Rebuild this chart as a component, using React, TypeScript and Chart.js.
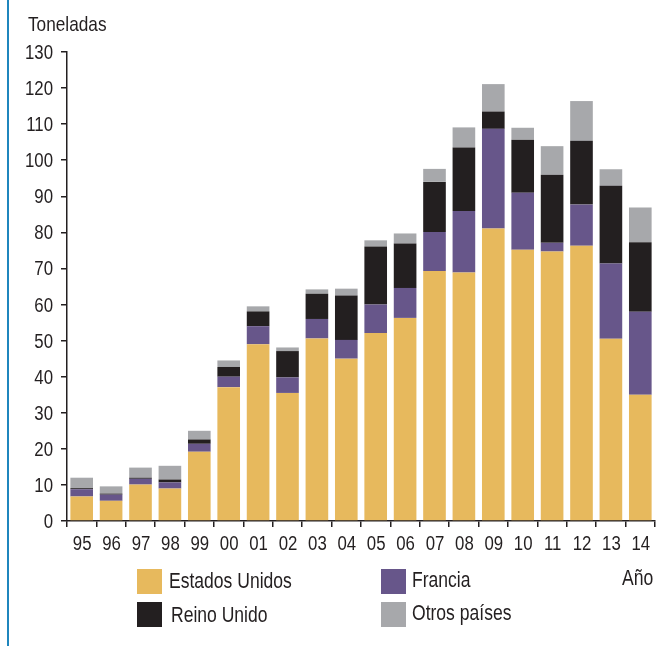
import React, { useEffect, useRef } from 'react';
import { Chart, registerables } from 'chart.js';
Chart.register(...registerables);

const years = ['95', '96', '97', '98', '99', '00', '01', '02', '03', '04', '05', '06', '07', '08', '09', '10', '11', '12', '13', '14'];
const estadosUnidos = [6.8, 5.6, 10.1, 9.0, 19.2, 37.1, 49.0, 35.5, 50.6, 45.0, 52.1, 56.3, 69.3, 68.9, 81.1, 75.2, 74.7, 76.3, 50.5, 35.0];
const francia = [2.0, 1.7, 1.6, 1.7, 2.2, 2.9, 5.0, 4.3, 5.4, 5.2, 7.9, 8.3, 10.8, 17.0, 27.6, 15.8, 2.4, 11.4, 20.9, 23.0];
const reinoUnido = [0.3, 0.3, 0.3, 0.8, 1.2, 2.7, 4.1, 7.3, 7.0, 12.3, 16.1, 12.3, 13.9, 17.6, 4.8, 14.7, 18.9, 17.7, 21.5, 19.3];
const otrosPaises = [2.9, 2.0, 2.8, 3.8, 2.4, 1.8, 1.4, 1.0, 1.2, 1.9, 1.7, 2.8, 3.6, 5.6, 7.6, 3.3, 7.9, 11.0, 4.6, 9.6];

const seriesNames = ['Estados Unidos', 'Francia', 'Reino Unido', 'Otros países'];
const seriesColors = ['#e7b95d', '#67568a', '#231f20', '#a7a8ab'];
const yTicks = { min: 0, max: 130, step: 10 };
const yTitle = 'Toneladas';
const xTitle = 'Año';

const INK = '#231f20';
const FAM = '"Liberation Sans", Arial, sans-serif';
const TICK_SIZE = 20;
const TICK_SX = 0.84;
const TEXT_SIZE = 21.4;
const TEXT_SX = 0.82;

function drawCondensed(ctx: CanvasRenderingContext2D, text: string, x: number, y: number, align: CanvasTextAlign, sx: number) {
  ctx.save();
  ctx.translate(x, y);
  ctx.scale(sx, 1);
  ctx.textAlign = align;
  ctx.textBaseline = 'alphabetic';
  ctx.fillText(text, 0, 0);
  ctx.restore();
}

const condensedTicks = {
  id: 'condensedTicks',
  afterDraw(chart: any) {
    const ctx: CanvasRenderingContext2D = chart.ctx;
    const xs = chart.scales.x;
    const ys = chart.scales.y;
    ctx.save();
    ctx.fillStyle = INK;
    ctx.font = `${TICK_SIZE}px ${FAM}`;
    xs.ticks.forEach((t: any, i: number) => {
      const px = xs.getPixelForTick(i) + 0.5;
      drawCondensed(ctx, String(xs.getLabelForValue(t.value)), px, xs.top + 28.5, 'center', TICK_SX);
    });
    ys.ticks.forEach((t: any, i: number) => {
      const py = ys.getPixelForTick(i);
      drawCondensed(ctx, String(t.value), ys.right - 14, py + 7, 'right', TICK_SX);
    });
    ctx.restore();
  },
};

export default function App() {
  const ref = useRef<HTMLCanvasElement | null>(null);

  useEffect(() => {
    if (!ref.current) return;
    const data = [estadosUnidos, francia, reinoUnido, otrosPaises];
    const chart = new Chart(ref.current, {
      type: 'bar',
      data: {
        labels: years,
        datasets: data.map((d, i) => ({
          label: seriesNames[i],
          data: d,
          backgroundColor: seriesColors[i],
          borderWidth: 0,
          barPercentage: 0.77,
          categoryPercentage: 1,
        })),
      },
      plugins: [condensedTicks],
      options: {
        responsive: false,
        animation: false,
        events: [],
        layout: { padding: { left: 0, right: 4, top: 52, bottom: 85 } },
        plugins: { legend: { display: false }, tooltip: { enabled: false }, title: { display: false } },
        scales: {
          x: {
            stacked: true,
            offset: true,
            grid: { display: true, drawOnChartArea: false, drawTicks: true, tickLength: 6, offset: true, color: INK, lineWidth: 1.5 },
            border: { display: true, color: INK, width: 1.5 },
            ticks: { color: 'rgba(0,0,0,0)', font: { family: FAM, size: TICK_SIZE }, padding: 6, maxRotation: 0, autoSkip: false },
            afterFit: (s: any) => { s.height = 40; },
          },
          y: {
            stacked: true,
            min: yTicks.min,
            max: yTicks.max,
            ticks: { stepSize: yTicks.step, color: 'rgba(0,0,0,0)', font: { family: FAM, size: TICK_SIZE }, padding: 8 },
            grid: { display: true, drawOnChartArea: false, drawTicks: true, tickLength: 6, color: INK, lineWidth: 1.5 },
            border: { display: true, color: INK, width: 1.5 },
            afterFit: (s: any) => { s.width = 67; },
          },
        },
      },
    });
    return () => chart.destroy();
  }, []);

  const txt = (size: number, baseline: number, left: number, text: string) => (
    <div
      style={{
        position: 'absolute',
        left,
        top: baseline - 0.8465 * size,
        fontFamily: FAM,
        fontSize: size,
        lineHeight: `${size}px`,
        color: INK,
        whiteSpace: 'nowrap',
        transform: `scaleX(${TEXT_SX})`,
        transformOrigin: 'left top',
      }}
    >
      {text}
    </div>
  );

  const legendPos = [
    { x: 137, y: 569, tx: 169, base: 589.3 },
    { x: 381, y: 569, tx: 412, base: 587.7 },
    { x: 137, y: 602, tx: 171, base: 623 },
    { x: 381, y: 602, tx: 412, base: 621.3 },
  ];

  return (
    <div style={{ position: 'absolute', left: 0, top: 0, width: 659, height: 646, background: '#fff', overflow: 'hidden' }}>
      <div style={{ position: 'absolute', left: 7, top: 0, width: 2, height: 646, background: '#1f86bd' }} />
      <canvas ref={ref} width={659} height={646} style={{ position: 'absolute', left: 0, top: 0, width: 659, height: 646 }} />
      {txt(21, 31, 28, yTitle)}
      {txt(TEXT_SIZE, 586, 622, xTitle)}
      {legendPos.map((p, i) => (
        <React.Fragment key={i}>
          <div style={{ position: 'absolute', left: p.x, top: p.y, width: 25, height: 25, background: seriesColors[i] }} />
          {txt(TEXT_SIZE, p.base, p.tx, seriesNames[i])}
        </React.Fragment>
      ))}
    </div>
  );
}
